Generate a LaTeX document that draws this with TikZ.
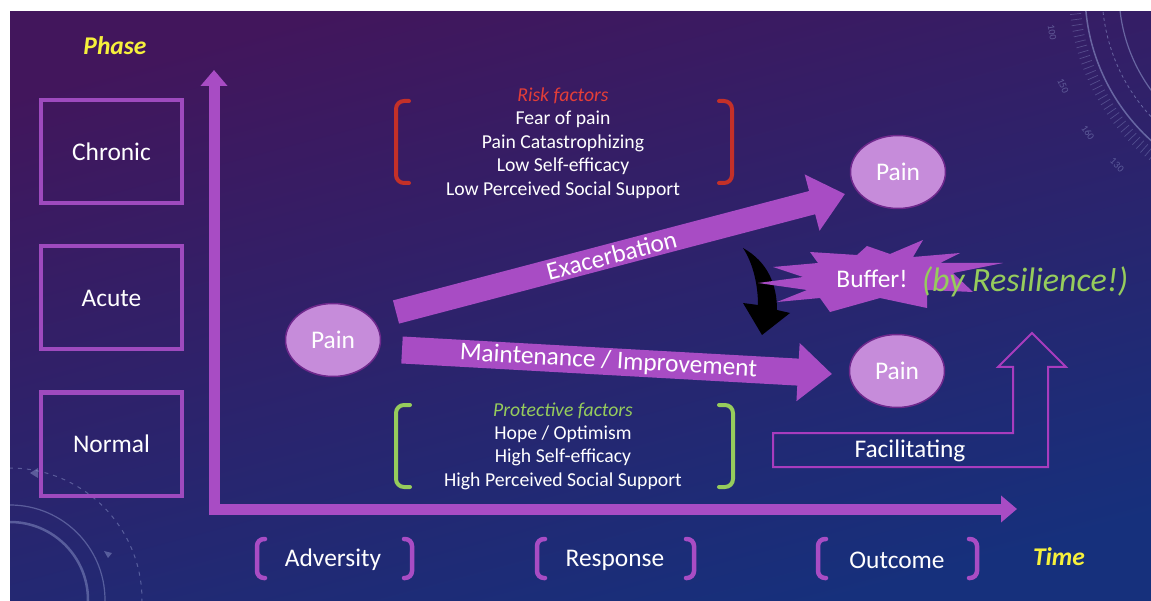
\documentclass[tikz,border=0pt]{standalone}
\usepackage{fontspec}
\setmainfont{Carlito}
\usetikzlibrary{arrows.meta,shapes.geometric}

\definecolor{bgtop}{RGB}{66,22,92}
\definecolor{bgbot}{RGB}{22,48,124}
\definecolor{arrowpurple}{RGB}{168,76,196}
\definecolor{boxpurple}{RGB}{158,74,190}
\definecolor{painfill}{RGB}{198,140,218}
\definecolor{painedge}{RGB}{110,40,140}
\definecolor{riskred}{RGB}{228,62,56}
\definecolor{bracketred}{RGB}{196,48,40}
\definecolor{protgreen}{RGB}{150,204,92}
\definecolor{axisyellow}{RGB}{246,240,60}
\definecolor{facil}{RGB}{168,60,190}
\definecolor{deco}{RGB}{150,160,210}

\begin{document}
\begin{tikzpicture}[x=1pt,y=-1pt,
  phasebox/.style={draw=boxpurple, line width=4pt, minimum width=141pt,
    minimum height=103pt, text=white, font=\fontsize{25.4}{30}\selectfont},
  pain/.style={ellipse, fill=painfill, draw=painedge, line width=1.5pt,
    minimum width=95pt, minimum height=73pt, inner sep=0pt, text=white,
    font=\fontsize{25.4}{30}\selectfont},
  lbl/.style={text=white, font=\fontsize{25.4}{30}\selectfont, inner sep=0pt},
  axislabel/.style={text=axisyellow, font=\fontsize{25.5}{30}\selectfont\bfseries\itshape},
  factors/.style={text=white, align=center, font=\fontsize{19.7}{23.4}\selectfont, inner sep=0pt},
  bracket/.style={line width=4pt, rounded corners=8pt, line cap=round},
  axis/.style={draw=arrowpurple, line width=11pt, -{Triangle[width=26pt,length=16pt]}},
  flow/.style={draw=arrowpurple, -{Triangle[width=56pt,length=34pt]}},
]
\useasboundingbox (0,0) rectangle (1151,601);
\fill[white] (0,0) rectangle (1151,601);

% background
\shade[top color=bgtop, bottom color=bgbot, shading angle=15] (10,12) rectangle (1151,601);

\begin{scope}
  \clip (10,12) rectangle (1151,601);
  % dial in the upper right corner
  \begin{scope}[draw=deco, draw opacity=0.55]
    \draw[line width=1.5pt] (1285,-8) circle[radius=200];
    \draw[line width=1.2pt] (1285,-8) circle[radius=166];
    \draw[line width=0.8pt, dashed] (1285,-8) circle[radius=183];
    \foreach \a in {90,91.5,...,270}
      \draw[line width=0.7pt, draw opacity=0.35]
        ({1285+205*cos(\a)},{-8+205*sin(\a)}) -- ({1285+216*cos(\a)},{-8+216*sin(\a)});
  \end{scope}
  \begin{scope}[text=deco, text opacity=0.45, font=\fontsize{10}{11}\selectfont, inner sep=0pt]
    \node[rotate=280] (d100) at (1052,32) {100};
    \node[rotate=293] (d150) at (1063,86) {150};
    \node[rotate=305] (d160) at (1088,133) {160};
    \node[rotate=315] (d130) at (1117,165) {130};
  \end{scope}
  % rings in the lower left corner
  \begin{scope}[draw=deco, draw opacity=0.45]
    \draw[line width=1.2pt] (10,600) circle[radius=95];
    \draw[line width=2.5pt] (10,600) circle[radius=78];
    \draw[line width=1pt, dash pattern=on 4pt off 5pt] (10,600) circle[radius=132];
  \end{scope}
  \fill[deco, opacity=0.45] (30,473) -- (38,468) -- (38,478) -- cycle;
  \fill[deco, opacity=0.45] (112,553) -- (104,551) -- (108,558) -- cycle;
\end{scope}

% phase boxes
\node[axislabel] (phase) at (115,46) {Phase};
\node[phasebox] (chronic) at (111.5,152) {Chronic};
\node[phasebox] (acute) at (111.5,298) {Acute};
\node[phasebox] (normal) at (111.5,444) {Normal};

% axes
\coordinate (origin) at (214,515);
\coordinate (ytip) at (214,70);
\coordinate (xorigin) at (209,509);
\coordinate (xtip) at (1017,509);
\draw[axis] (origin) -- (ytip);
\draw[axis] (xorigin) -- (xtip);
\node[axislabel] (time) at (1059,557) {Time};

% pain states
\node[pain] (painL) at (333,340) {Pain};
\node[pain] (painH) at (898,172) {Pain};
\node[pain] (painN) at (897,371) {Pain};

% pathways
\coordinate (exA) at (396,312);
\coordinate (exB) at (845,194);
\coordinate (mtA) at (402,350);
\coordinate (mtB) at (832,374);
\draw[flow, line width=24pt] (exA) -- node[lbl, sloped, pos=0.48] (exlbl) {Exacerbation} (exB);
\draw[flow, line width=27pt] (mtA) -- node[lbl, sloped, pos=0.48] (mtlbl) {Maintenance / Improvement} (mtB);

% risk factors
\node[factors] (risk) at (563,143) {\textcolor{riskred}{\itshape Risk factors}\\Fear of pain\\Pain Catastrophizing\\Low Self-efficacy\\Low Perceived Social Support};
\draw[bracket, bracketred] (409,101) -- (396,101) -- (396,183) -- (409,183);
\draw[bracket, bracketred] (719,101) -- (732,101) -- (732,183) -- (719,183);

% protective factors
\node[factors] (protect) at (563,446) {\textcolor{protgreen}{\itshape Protective factors}\\Hope / Optimism\\High Self-efficacy\\High Perceived Social Support};
\draw[bracket, protgreen] (410,405) -- (396,405) -- (396,487) -- (410,487);
\draw[bracket, protgreen] (719,405) -- (733,405) -- (733,487) -- (719,487);

% buffering arrow
\fill[black] (743,248) .. controls (768,262) and (777,285) .. (777,310)
  -- (790,313) -- (762,335) -- (743,303) -- (758,305)
  .. controls (758,285) and (753,263) .. (743,248) -- cycle;

% buffer burst
\fill[arrowpurple] (758,283) -- (803,277) -- (773,267) -- (818,263) -- (810,252)
  -- (857,255) -- (867,246) -- (890,254) -- (923,240) -- (913,257) -- (960,253)
  -- (940,263) -- (1003,263) -- (953,273) -- (973,292) -- (927,290) -- (927,308)
  -- (880,298) -- (830,312) -- (820,298) -- (777,302) -- (807,290) -- cycle;
\node[lbl] (buffer) at (872,279) {Buffer!};
\node[text=protgreen, font=\fontsize{34}{40}\selectfont\itshape, inner sep=0pt] (resil) at (1025,282) {(by Resilience!)};

% facilitating arrow
\draw[facil, line width=2pt, line join=miter] (773,467) -- (773,433) -- (1013,433) -- (1013,367)
  -- (998,367) -- (1032,333) -- (1066,367) -- (1048,367) -- (1048,467) -- cycle;
\node[lbl] (facilitating) at (910,451) {Facilitating};

% time stages
\node[lbl] (adv) at (333,560) {Adversity};
\node[lbl] (resp) at (615,560) {Response};
\node[lbl] (outc) at (897,560) {Outcome};
\foreach \l/\r in {257/412, 537/694, 818/977}{
  \draw[bracket, arrowpurple, line width=4.5pt, rounded corners=7pt] (\l+8,539) -- (\l,539) -- (\l,578) -- (\l+8,578);
  \draw[bracket, arrowpurple, line width=4.5pt, rounded corners=7pt] (\r-8,539) -- (\r,539) -- (\r,578) -- (\r-8,578);
}
\end{tikzpicture}
\end{document}
